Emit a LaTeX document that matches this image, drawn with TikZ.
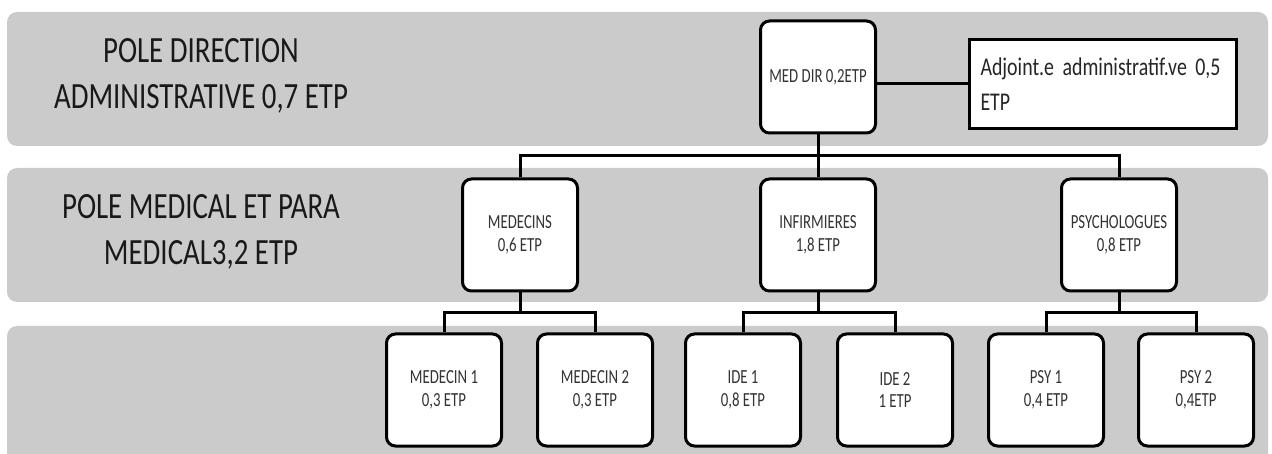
\documentclass[tikz,border=0pt]{standalone}
\usepackage{fontspec}
\setmainfont{Carlito}[FakeStretch=0.78]
\newfontfamily\myboxfam{Carlito}[FakeStretch=0.74]
\newfontfamily\myadjfam{Carlito}[FakeStretch=0.78, WordSpace=0.7]
\definecolor{bandgray}{HTML}{CBCBCB}
\definecolor{boxtext}{HTML}{333333}
\newcommand\myboxfont{\myboxfam\fontsize{20}{22.5}\selectfont}
\newcommand\mybandfont{\fontsize{37}{46}\selectfont}
\newcommand\myadjfont{\myadjfam\fontsize{25.5}{35}\selectfont}
\tikzset{
  bandfill/.style={fill=bandgray, draw=none, rounded corners=10pt},
  orgbox/.style={draw=black, line width=3pt, fill=white, rounded corners=9pt,
    minimum width=115pt, minimum height=112pt, align=center, font=\myboxfont,
    text=boxtext, inner sep=0pt},
  adjbox/.style={draw=black, line width=3pt, fill=white, minimum width=267pt,
    minimum height=89pt, align=left, text width=245pt, inner xsep=11pt,
    font=\myadjfont, text=black!85},
  conn/.style={draw=black, line width=3pt},
  bandtext/.style={align=center, font=\mybandfont, text=black!90}
}
\begin{document}
\begin{tikzpicture}[x=1pt, y=-1pt]
\useasboundingbox (0,0) rectangle (1272,454);
\begin{scope}
\clip (0,0) rectangle (1272,454);
\fill[bandfill] (7,12) rectangle (1268,146);
\fill[bandfill] (7,168) rectangle (1268,302);
\fill[bandfill] (7,326) rectangle (1268,490);
\end{scope}
% band labels
\node[bandtext] (t1) at (201,76) {POLE DIRECTION\\ADMINISTRATIVE 0,7 ETP};
\node[bandtext] (t2) at (201,232) {POLE MEDICAL ET PARA\\MEDICAL3,2 ETP};
% top level
\node[orgbox] (md) at (818,77) {MED DIR 0,2ETP};
\node[adjbox] (adj) at (1103,84) {Adjoint.e administratif.ve 0,5\\ETP};
% middle level
\node[orgbox] (med) at (520,235) {MEDECINS\\0,6 ETP};
\node[orgbox] (inf) at (818,235) {INFIRMIERES\\1,8 ETP};
\node[orgbox] (psy) at (1119,235) {PSYCHOLOGUES\\0,8 ETP};
% bottom level
\node[orgbox] (m1) at (444,390) {MEDECIN 1\\0,3 ETP};
\node[orgbox] (m2) at (595,390) {MEDECIN 2\\0,3 ETP};
\node[orgbox] (i1) at (743,390) {IDE 1\\0,8 ETP};
\node[orgbox] (i2) at (895,390) {IDE 2\\1 ETP};
\node[orgbox] (p1) at (1046,390) {PSY 1\\0,4 ETP};
\node[orgbox] (p2) at (1196,390) {PSY 2\\0,4ETP};
% connectors
\draw[conn] (adj.west) -- (adj.west -| md.east);
\draw[conn] (md.south) -- (inf.north);
\draw[conn] (med.north) -- ++(0,-22) -| (psy.north);
\draw[conn] (med.south) -- ++(0,21);
\draw[conn] (m1.north) -- ++(0,-20) -| (m2.north);
\draw[conn] (inf.south) -- ++(0,21);
\draw[conn] (i1.north) -- ++(0,-20) -| (i2.north);
\draw[conn] (psy.south) -- ++(0,21);
\draw[conn] (p1.north) -- ++(0,-20) -| (p2.north);
\end{tikzpicture}
\end{document}
